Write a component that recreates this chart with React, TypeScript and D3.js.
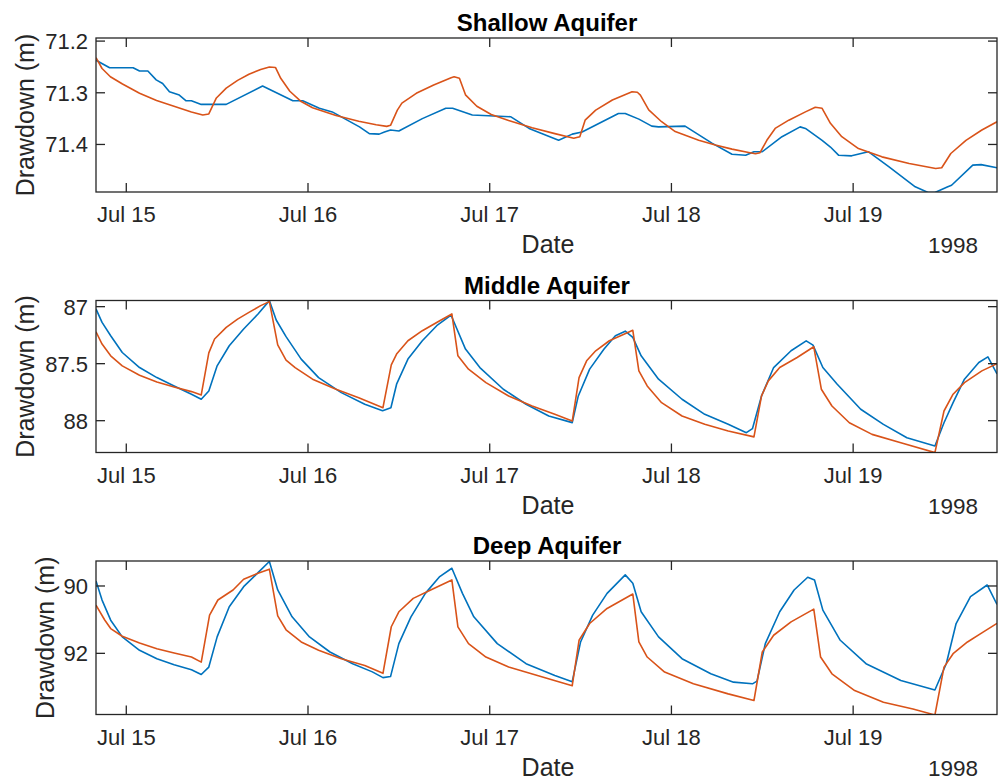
import React from 'react';
import * as d3 from 'd3';

// ---- data: [hours since 1998-07-15 00:00, drawdown (m)] ----
const shallowObserved: [number, number][] = [
  [-4, 71.237], [-2.2, 71.2515], [0.9, 71.2515], [1.75, 71.258], [2.85, 71.258], [3.95, 71.275], [4.8, 71.282],
  [5.7, 71.298], [7.0, 71.3045], [7.9, 71.3155], [8.6, 71.3155], [9.9, 71.3225], [13.2, 71.3225], [18.0, 71.287],
  [22.0, 71.3155], [23.3, 71.3155], [25.5, 71.33], [27.2, 71.337], [30.8, 71.366], [32.1, 71.379], [33.4, 71.38],
  [34.1, 71.376], [34.9, 71.372], [36.0, 71.374], [39.1, 71.35], [42.2, 71.33], [43.1, 71.33], [45.7, 71.343],
  [50.8, 71.3465], [53.2, 71.369], [57.1, 71.392], [58.9, 71.38], [60.2, 71.376], [65.0, 71.34], [65.9, 71.34],
  [67.7, 71.351], [69.4, 71.3645], [70.3, 71.366], [73.8, 71.3645], [77.4, 71.398], [80.0, 71.419], [81.8, 71.421],
  [82.9, 71.414], [84.0, 71.414], [86.6, 71.385], [89.0, 71.366], [89.7, 71.369], [91.9, 71.392], [93.0, 71.405],
  [94.1, 71.421], [95.8, 71.422], [98.0, 71.414], [100.7, 71.443], [104.2, 71.482], [105.9, 71.493], [106.8, 71.493],
  [108.5, 71.482], [109.0, 71.479], [111.8, 71.44], [112.9, 71.439], [115, 71.445],
];
const shallowSimulated: [number, number][] = [
  [-4, 71.232], [-3.2, 71.253], [-2.1, 71.269], [-0.5, 71.283], [1.75, 71.301], [4.0, 71.315], [6.3, 71.326],
  [8.6, 71.337], [10.1, 71.343], [10.9, 71.341], [11.9, 71.31], [13.2, 71.291], [14.7, 71.276], [16.2, 71.264],
  [17.75, 71.255], [18.9, 71.25], [19.7, 71.251], [20.4, 71.272], [21.6, 71.297], [23.1, 71.317], [24.6, 71.329],
  [27.7, 71.344], [30.7, 71.355], [33.0, 71.362], [34.4, 71.365], [34.9, 71.363], [35.8, 71.3335], [36.4, 71.32],
  [38.3, 71.301], [40.6, 71.285], [42.9, 71.271], [43.3, 71.269], [44.0, 71.272], [44.8, 71.304], [46.3, 71.326],
  [48.2, 71.342], [50.5, 71.3535], [53.6, 71.3675], [56.6, 71.379], [59.1, 71.388], [59.9, 71.385], [60.6, 71.353],
  [62.0, 71.3335], [64.2, 71.314], [66.8, 71.298], [67.5, 71.299], [67.9, 71.3045], [69.0, 71.333], [70.7, 71.356],
  [72.5, 71.375], [75.6, 71.392], [77.8, 71.401], [80.0, 71.409], [82.2, 71.4155], [83.1, 71.418], [83.7, 71.416],
  [84.6, 71.392], [85.7, 71.369], [87.5, 71.353], [89.7, 71.337], [91.0, 71.328], [91.9, 71.33], [93.0, 71.359],
  [94.5, 71.385], [96.7, 71.408], [99.8, 71.424], [103.4, 71.437], [106.9, 71.4465], [107.7, 71.445],
  [108.9, 71.4175], [110.9, 71.392], [113.0, 71.372], [115, 71.356],
];
const middleObserved: [number, number][] = [
  [-4, 87.02], [-3.2, 87.138], [-2.06, 87.255], [-0.53, 87.402], [1.75, 87.534], [4.04, 87.622], [6.32, 87.695],
  [8.61, 87.768], [9.9, 87.812], [10.9, 87.739], [12.0, 87.519], [13.6, 87.343], [15.5, 87.196], [17.4, 87.065],
  [18.9, 86.947], [19.8, 87.117], [21.1, 87.263], [23.1, 87.46], [25.4, 87.622], [28.4, 87.754], [31.5, 87.856],
  [33.85, 87.912], [34.95, 87.886], [35.7, 87.68], [37.2, 87.46], [39.1, 87.299], [41.0, 87.167], [42.9, 87.075],
  [44.8, 87.372], [46.7, 87.534], [49.8, 87.724], [52.8, 87.856], [55.8, 87.959], [58.9, 88.017], [59.7, 87.783],
  [61.2, 87.548], [63.1, 87.372], [64.6, 87.255], [65.9, 87.215], [66.9, 87.27], [68.0, 87.431], [70.3, 87.636],
  [73.4, 87.812], [76.4, 87.944], [79.5, 88.032], [81.9, 88.105], [82.7, 88.07], [83.9, 87.783], [85.5, 87.534],
  [87.8, 87.387], [89.8, 87.3], [90.7, 87.337], [92.0, 87.534], [93.9, 87.68], [97.0, 87.9], [100.0, 88.032],
  [103.1, 88.15], [106.8, 88.222], [108.0, 88.018], [109.2, 87.842], [110.7, 87.636], [112.6, 87.49],
  [113.8, 87.44], [115, 87.59],
];
const middleSimulated: [number, number][] = [
  [-4, 87.22], [-3.2, 87.328], [-2.06, 87.431], [-0.53, 87.519], [1.75, 87.601], [4.04, 87.66], [6.32, 87.704],
  [8.61, 87.745], [9.9, 87.774], [10.9, 87.405], [11.66, 87.284], [13.2, 87.182], [14.7, 87.109], [16.2, 87.05],
  [17.75, 86.991], [18.9, 86.956], [20.0, 87.336], [21.1, 87.468], [22.3, 87.534], [24.6, 87.636], [27.7, 87.724],
  [30.7, 87.798], [33.9, 87.886], [35.0, 87.511], [35.7, 87.416], [37.2, 87.299], [39.1, 87.211], [41.4, 87.123],
  [43.0, 87.064], [43.8, 87.431], [45.2, 87.548], [47.5, 87.666], [50.5, 87.783], [53.6, 87.871], [56.6, 87.944],
  [58.9, 88.003], [59.8, 87.622], [60.8, 87.475], [62.0, 87.387], [63.8, 87.299], [65.8, 87.24], [66.9, 87.207],
  [67.7, 87.563], [68.8, 87.695], [70.7, 87.842], [73.4, 87.959], [76.4, 88.032], [79.5, 88.091], [82.9, 88.142],
  [83.9, 87.783], [84.8, 87.651], [86.3, 87.534], [88.6, 87.446], [90.8, 87.352], [91.8, 87.724], [93.2, 87.871],
  [95.5, 88.018], [98.5, 88.12], [102.3, 88.194], [106.8, 88.28], [108.0, 87.915], [109.2, 87.768],
  [110.7, 87.666], [113.0, 87.563], [115, 87.5],
];
const deepObserved: [number, number][] = [
  [-4, 89.85], [-3.2, 90.418], [-2.06, 91.015], [-0.53, 91.512], [1.75, 91.91], [4.04, 92.159], [6.32, 92.338],
  [8.61, 92.488], [9.9, 92.627], [10.9, 92.408], [12.0, 91.512], [13.6, 90.617], [15.5, 90.02], [17.4, 89.602],
  [18.9, 89.274], [20.0, 90.119], [21.9, 90.915], [24.2, 91.512], [26.9, 91.96], [29.9, 92.308], [32.5, 92.55],
  [33.9, 92.72], [34.9, 92.69], [36.0, 91.711], [37.6, 90.915], [39.5, 90.219], [41.4, 89.721], [43.0, 89.474],
  [44.4, 90.219], [45.9, 90.915], [49.0, 91.711], [52.8, 92.308], [56.6, 92.657], [58.9, 92.84], [60.0, 91.662],
  [61.6, 90.866], [63.5, 90.219], [65.9, 89.67], [66.9, 89.92], [68.0, 90.766], [70.3, 91.512], [73.4, 92.159],
  [77.2, 92.607], [80.2, 92.856], [82.7, 92.905], [83.3, 92.826], [84.4, 91.711], [86.3, 90.766], [88.2, 90.119],
  [90.0, 89.741], [90.9, 89.821], [92.0, 90.716], [94.3, 91.612], [97.7, 92.308], [102.3, 92.806], [106.8, 93.09],
  [108.3, 92.308], [109.6, 91.114], [111.5, 90.318], [113.7, 89.97], [115, 90.55],
];
const deepSimulated: [number, number][] = [
  [-4, 90.567], [-2.85, 91.01], [-2.06, 91.264], [-0.53, 91.493], [1.75, 91.692], [4.04, 91.861], [6.32, 91.99],
  [8.61, 92.11], [9.9, 92.262], [11.0, 90.862], [12.1, 90.416], [14.1, 90.12], [15.5, 89.8], [17.4, 89.622],
  [18.9, 89.5], [20.0, 90.89], [21.1, 91.3], [23.1, 91.662], [25.4, 91.91], [28.4, 92.159], [31.5, 92.358],
  [33.9, 92.593], [35.0, 91.21], [36.0, 90.766], [37.9, 90.368], [40.2, 90.119], [43.0, 89.82], [43.8, 91.214],
  [45.2, 91.711], [47.5, 92.109], [50.5, 92.408], [54.3, 92.657], [58.9, 92.96], [59.8, 91.612], [61.2, 91.114],
  [63.5, 90.667], [66.9, 90.24], [67.7, 91.662], [68.8, 92.109], [71.1, 92.557], [74.9, 92.905], [79.5, 93.204],
  [82.9, 93.4], [84.0, 91.96], [85.5, 91.463], [87.8, 91.065], [90.8, 90.687], [91.7, 92.109], [93.2, 92.607],
  [96.2, 93.104], [100.0, 93.453], [103.9, 93.652], [106.8, 93.83], [108.0, 92.408], [109.2, 92.01],
  [111.1, 91.662], [113.0, 91.393], [115, 91.11],
];

const panelTitles = ['Shallow Aquifer', 'Middle Aquifer', 'Deep Aquifer'];
const yDomains: [number, number][] = [[71.194, 71.492], [86.946, 88.279], [89.258, 93.816]];
const yTickValues = [[71.2, 71.3, 71.4], [87, 87.5, 88], [90, 92]];
const yTickLabels = [['71.2', '71.3', '71.4'], ['87', '87.5', '88'], ['90', '92']];
const observedSeries = [shallowObserved, middleObserved, deepObserved];
const simulatedSeries = [shallowSimulated, middleSimulated, deepSimulated];
const xStartHour = -4;
const xEndHour = 115;
const yearLabel = '1998';
const xAxisLabel = 'Date';
const yAxisLabel = 'Drawdown (m)';

// ---- layout ----
const W = 1000, H = 783;
const LEFT = 96, RIGHT = 997;
const panelTops = [38, 300.5, 561];
const panelBottoms = [192, 452.5, 714.5];
const ylabelX = [33.5, 33.5, 53.5];
const BLUE = '#0072BD', RED = '#D95319', AX = '#262626';
const FONT = "'Liberation Sans', Arial, Helvetica, sans-serif";

const base = new Date(1998, 6, 15, 0, 0, 0).getTime();
const toDate = (h: number) => new Date(base + h * 3600e3);

const xScale = d3.scaleTime().domain([toDate(xStartHour), toDate(xEndHour)]).range([LEFT, RIGHT]);
const xTicks = xScale.ticks(d3.timeDay.every(1) as any);
const fmt = d3.timeFormat('%b %d');

function Panel({ i }: { i: number }) {
  const top = panelTops[i], bottom = panelBottoms[i];
  const y = d3.scaleLinear().domain(yDomains[i]).range([top, bottom]);
  const line = d3.line<[number, number]>()
    .x(d => xScale(toDate(d[0])))
    .y(d => y(d[1]));
  const clipId = `clip${i}`;
  const tl = 9;
  return (
    <g>
      <defs>
        <clipPath id={clipId}><rect x={LEFT} y={top} width={RIGHT - LEFT} height={bottom - top} /></clipPath>
      </defs>
      <g clipPath={`url(#${clipId})`}>
        <path d={line(observedSeries[i]) || ''} fill="none" stroke={BLUE} strokeWidth={1.6} strokeLinejoin="round" />
        <path d={line(simulatedSeries[i]) || ''} fill="none" stroke={RED} strokeWidth={1.6} strokeLinejoin="round" />
      </g>
      <rect x={LEFT} y={top} width={RIGHT - LEFT} height={bottom - top} fill="none" stroke={AX} strokeWidth={1.3} />
      {xTicks.map((t, k) => {
        const x = xScale(t);
        return (
          <g key={'x' + k}>
            <line x1={x} x2={x} y1={bottom} y2={bottom - tl} stroke={AX} strokeWidth={1.3} />
            <line x1={x} x2={x} y1={top} y2={top + tl} stroke={AX} strokeWidth={1.3} />
            <text x={x} y={bottom + 30} textAnchor="middle" fontSize={22} fill={AX} fontFamily={FONT}>{fmt(t)}</text>
          </g>
        );
      })}
      {yTickValues[i].map((v, k) => {
        const yy = y(v);
        return (
          <g key={'y' + k}>
            <line x1={LEFT} x2={LEFT + tl} y1={yy} y2={yy} stroke={AX} strokeWidth={1.3} />
            <line x1={RIGHT} x2={RIGHT - tl} y1={yy} y2={yy} stroke={AX} strokeWidth={1.3} />
            <text x={88} y={yy} dy="0.36em" textAnchor="end" fontSize={22} fill={AX} fontFamily={FONT}>{yTickLabels[i][k]}</text>
          </g>
        );
      })}
      <text x={547} y={top - 7} textAnchor="middle" fontSize={24} fontWeight="bold" fill="#000" fontFamily={FONT}>{panelTitles[i]}</text>
      <text x={548} y={bottom + 61} textAnchor="middle" fontSize={25} fill={AX} fontFamily={FONT}>{xAxisLabel}</text>
      <text x={978} y={bottom + 61} textAnchor="end" fontSize={22.5} fill={AX} fontFamily={FONT}>{yearLabel}</text>
      <text transform={`translate(${ylabelX[i]},${(top + bottom) / 2}) rotate(-90)`} textAnchor="middle" fontSize={25} fill={AX} fontFamily={FONT}>{yAxisLabel}</text>
    </g>
  );
}

export default function App() {
  return (
    <svg width={W} height={H} style={{ position: 'absolute', left: 0, top: 0, background: '#fff' }}>
      <rect x={0} y={0} width={W} height={H} fill="#fff" />
      {[0, 1, 2].map(i => <Panel key={i} i={i} />)}
    </svg>
  );
}
